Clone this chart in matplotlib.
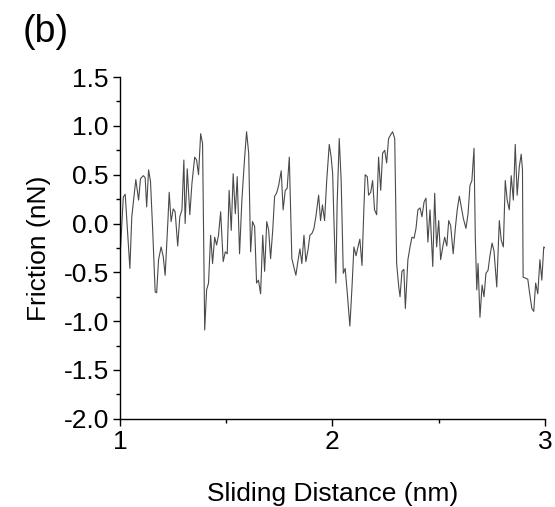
import matplotlib
matplotlib.use("Agg")
import matplotlib.pyplot as plt
from matplotlib.ticker import MultipleLocator

plt.rcParams['font.family'] = ['Liberation Sans', 'DejaVu Sans']
plt.rcParams['axes.unicode_minus'] = False

# Sliding distance (nm) and friction (nN)
distance = [1.000, 1.016, 1.025, 1.047, 1.056, 1.075, 1.088, 1.097, 1.110, 1.119,
            1.126, 1.135, 1.144, 1.154, 1.166, 1.173, 1.182, 1.194, 1.204, 1.213,
            1.226, 1.232, 1.241, 1.251, 1.260, 1.272, 1.282, 1.292, 1.301, 1.307,
            1.317, 1.329, 1.339, 1.352, 1.361, 1.370, 1.380, 1.389, 1.399, 1.408,
            1.417, 1.427, 1.436, 1.446, 1.455, 1.464, 1.474, 1.486, 1.496, 1.505,
            1.514, 1.524, 1.533, 1.543, 1.552, 1.563, 1.574, 1.587, 1.596, 1.606,
            1.615, 1.624, 1.634, 1.643, 1.652, 1.662, 1.672, 1.681, 1.691, 1.700,
            1.709, 1.719, 1.728, 1.737, 1.747, 1.759, 1.768, 1.778, 1.787, 1.797,
            1.809, 1.819, 1.828, 1.838, 1.847, 1.856, 1.866, 1.875, 1.885, 1.894,
            1.904, 1.913, 1.922, 1.935, 1.944, 1.953, 1.963, 1.973, 1.985, 1.994,
            2.001, 2.007, 2.016, 2.022, 2.032, 2.041, 2.051, 2.060, 2.070, 2.082,
            2.092, 2.101, 2.111, 2.120, 2.129, 2.139, 2.148, 2.154, 2.164, 2.170,
            2.180, 2.189, 2.198, 2.208, 2.217, 2.227, 2.236, 2.246, 2.255, 2.264,
            2.274, 2.283, 2.293, 2.302, 2.312, 2.318, 2.327, 2.336, 2.343, 2.355,
            2.365, 2.374, 2.384, 2.393, 2.402, 2.412, 2.421, 2.431, 2.440, 2.449,
            2.459, 2.472, 2.481, 2.490, 2.500, 2.509, 2.519, 2.528, 2.538, 2.547,
            2.556, 2.568, 2.578, 2.587, 2.597, 2.606, 2.616, 2.628, 2.638, 2.647,
            2.656, 2.666, 2.672, 2.679, 2.685, 2.694, 2.704, 2.713, 2.722, 2.732,
            2.741, 2.751, 2.760, 2.773, 2.785, 2.794, 2.804, 2.813, 2.822, 2.832,
            2.841, 2.851, 2.860, 2.869, 2.879, 2.888, 2.894, 2.897, 2.909, 2.919,
            2.928, 2.938, 2.947, 2.956, 2.966, 2.976, 2.985, 2.994, 3.000]
friction = [-0.38, 0.27, 0.30, -0.46, 0.07, 0.45, 0.24, 0.46, 0.49, 0.47,
            0.17, 0.55, 0.43, -0.05, -0.70, -0.71, -0.37, -0.24, -0.34, -0.53,
            0.03, 0.32, 0.02, 0.15, 0.12, -0.23, 0.07, 0.14, 0.65, 0.00,
            0.56, 0.09, 0.41, 0.68, 0.65, 0.50, 0.92, 0.82, -1.09, -0.68,
            -0.61, -0.12, -0.41, -0.14, -0.22, -0.12, 0.12, -0.39, -0.29, -0.31,
            0.34, -0.07, 0.51, 0.10, 0.48, -0.31, 0.24, 0.68, 0.94, 0.72,
            -0.29, 0.02, -0.03, -0.61, -0.58, -0.72, -0.12, -0.49, 0.02, -0.07,
            -0.36, -0.07, 0.28, 0.31, 0.39, 0.54, 0.14, 0.34, 0.36, 0.68,
            -0.36, -0.45, -0.53, -0.38, -0.26, -0.41, -0.12, -0.39, -0.27, -0.12,
            -0.10, -0.05, 0.07, 0.29, 0.03, 0.19, 0.03, 0.44, 0.81, 0.68,
            0.51, 0.03, -0.61, 0.20, 0.87, 0.44, -0.51, -0.46, -0.72, -1.05,
            -0.65, -0.24, -0.33, -0.24, -0.16, -0.43, 0.16, 0.50, 0.48, 0.29,
            0.32, 0.44, 0.14, 0.09, 0.68, 0.34, 0.72, 0.75, 0.62, 0.87,
            0.91, 0.94, 0.87, -0.41, -0.65, -0.75, -0.49, -0.47, -0.87, -0.37,
            -0.24, -0.14, -0.15, -0.05, 0.14, 0.16, 0.07, 0.22, 0.26, -0.19,
            0.14, -0.44, 0.31, -0.24, 0.03, -0.37, -0.24, -0.14, -0.23, 0.03,
            -0.02, -0.31, -0.05, 0.14, 0.28, 0.17, 0.05, -0.05, 0.10, 0.39,
            0.44, 0.77, -0.14, -0.68, -0.41, -0.96, -0.63, -0.75, -0.51, -0.48,
            -0.33, -0.20, -0.28, -0.65, 0.03, -0.17, -0.24, 0.44, 0.24, 0.14,
            0.49, 0.24, 0.81, 0.29, 0.58, 0.71, 0.55, -0.55, -0.56, -0.57,
            -0.72, -0.87, -0.90, -0.61, -0.72, -0.37, -0.58, -0.24, -0.25]

x_ticks = [1, 2, 3]
y_ticks = [1.5, 1.0, 0.5, 0.0, -0.5, -1.0, -1.5, -2.0]

fig = plt.figure(figsize=(5.55, 5.07), dpi=100)
ax = fig.add_axes([0.216, 0.174, 0.766, 0.674])
ax.plot(distance, friction, color='#4a4a4a', linewidth=0.8)

ax.set_xlim(1, 3)
ax.set_ylim(-2.0, 1.5)
ax.set_xticks(x_ticks)
ax.set_xticklabels([str(t) for t in x_ticks])
ax.set_yticks(y_ticks)
ax.set_yticklabels([f"{t:.1f}" for t in y_ticks])
ax.xaxis.set_minor_locator(MultipleLocator(0.5))
ax.yaxis.set_minor_locator(MultipleLocator(0.25))

for side in ['top', 'right']:
    ax.spines[side].set_visible(False)
for side in ['left', 'bottom']:
    ax.spines[side].set_linewidth(1.0)
ax.tick_params(which='major', direction='out', length=5, width=1, labelsize=19, pad=3)
ax.tick_params(which='minor', direction='out', length=3, width=1)

ax.set_xlabel('Sliding Distance (nm)', fontsize=19, labelpad=20)
ax.set_ylabel('Friction (nN)', fontsize=19, labelpad=9)

fig.text(0.04, 0.937, '(b)', fontsize=27, ha='left', va='center')

fig.savefig('out.png', dpi=100)
